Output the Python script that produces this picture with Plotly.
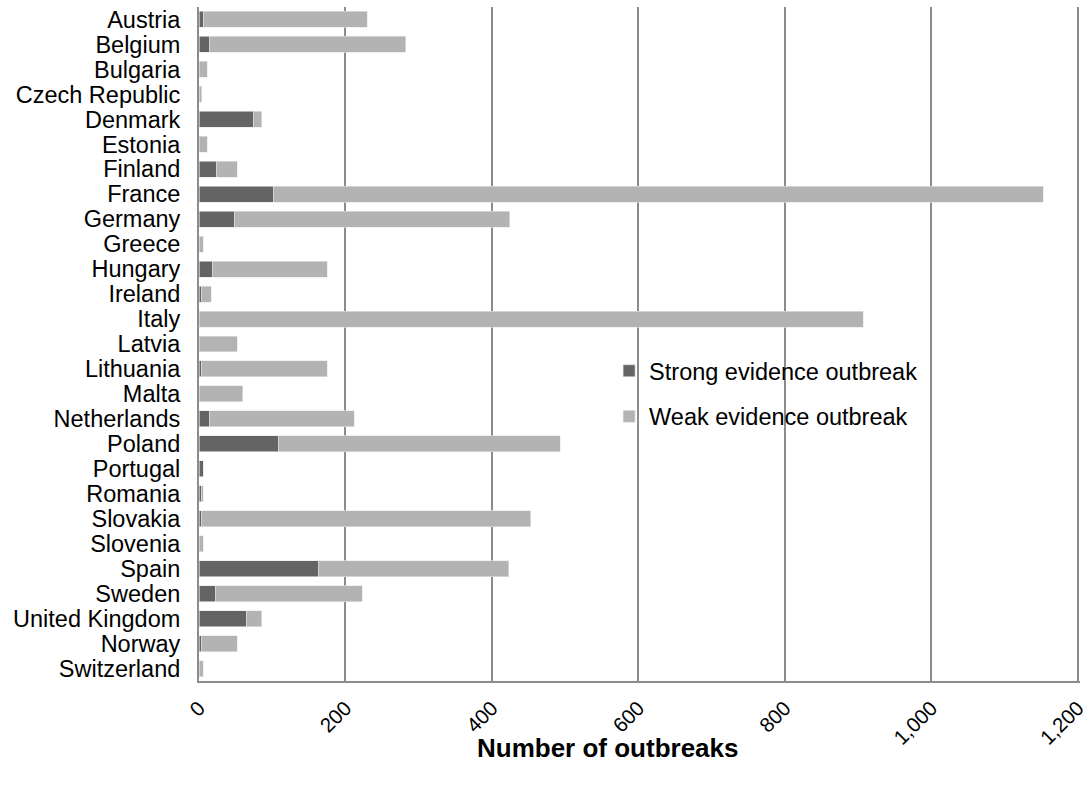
import plotly.graph_objects as go

countries = ["Austria", "Belgium", "Bulgaria", "Czech Republic", "Denmark", "Estonia",
             "Finland", "France", "Germany", "Greece", "Hungary", "Ireland", "Italy",
             "Latvia", "Lithuania", "Malta", "Netherlands", "Poland", "Portugal",
             "Romania", "Slovakia", "Slovenia", "Spain", "Sweden", "United Kingdom",
             "Norway", "Switzerland"]
strong = [6, 14, 0, 0, 75, 0, 24, 102, 49, 0, 19, 3, 0, 0, 3, 0, 14, 108, 6, 3, 3, 0,
          163, 22, 65, 3, 0]
weak = [224, 268, 11, 4, 11, 11, 28, 1051, 375, 6, 156, 14, 907, 52, 172, 60, 198, 385,
        0, 3, 450, 6, 260, 201, 21, 49, 6]
x_ticks = [0, 200, 400, 600, 800, 1000, 1200]
x_labels = ["0", "200", "400", "600", "800", "1,000", "1,200"]

FONT = "Liberation Sans, Arial, sans-serif"
GRID = "#8c8c8c"

fig = go.Figure()
fig.add_trace(go.Bar(y=countries, x=strong, orientation="h", name="Strong evidence outbreak",
                     marker=dict(color="#646464", line=dict(color="#e8e8e8", width=0.6)),
                     legendgroup="a"))
fig.add_trace(go.Bar(y=countries, x=weak, orientation="h", name="Weak evidence outbreak",
                     marker=dict(color="#b3b3b3", line=dict(color="#e8e8e8", width=0.6)),
                     legendgroup="b"))

fig.update_layout(
    barmode="stack",
    bargap=0.36,
    width=1089, height=789,
    margin=dict(l=199, r=9, t=7, b=108),
    paper_bgcolor="white", plot_bgcolor="white",
    font=dict(family=FONT, size=23, color="black"),
    legend=dict(x=0.4655, y=0.4926, xanchor="left", yanchor="top",
                bgcolor="rgba(0,0,0,0)", font=dict(size=23.5),
                tracegroupgap=12, traceorder="grouped"),
    xaxis=dict(range=[0, 1203], tickmode="array", tickvals=x_ticks, ticktext=x_labels,
               tickangle=-45, automargin=False, ticklabeloverflow="allow",
               showgrid=True, gridcolor=GRID, gridwidth=1.5,
               showline=True, linecolor=GRID, linewidth=2, mirror=False,
               ticks="", ticklabelstandoff=5, zeroline=False,
               tickfont=dict(size=20.5)),
    yaxis=dict(categoryorder="array", categoryarray=countries, autorange="reversed",
               tickmode="array", tickvals=countries, ticktext=countries,
               automargin=False,
               showline=True, linecolor=GRID, linewidth=2, showgrid=False,
               ticks="", ticklabelstandoff=12, tickfont=dict(size=23.5)),
    annotations=[dict(text="<b>Number of outbreaks</b>", xref="paper", yref="paper",
                      x=0.464, y=-0.099, xanchor="center", yanchor="middle",
                      showarrow=False, font=dict(size=26, family=FONT))],
)

fig.write_html("out.html", config={"displayModeBar": False},
               post_script="document.body.style.margin='0';document.body.style.overflow='hidden';")
